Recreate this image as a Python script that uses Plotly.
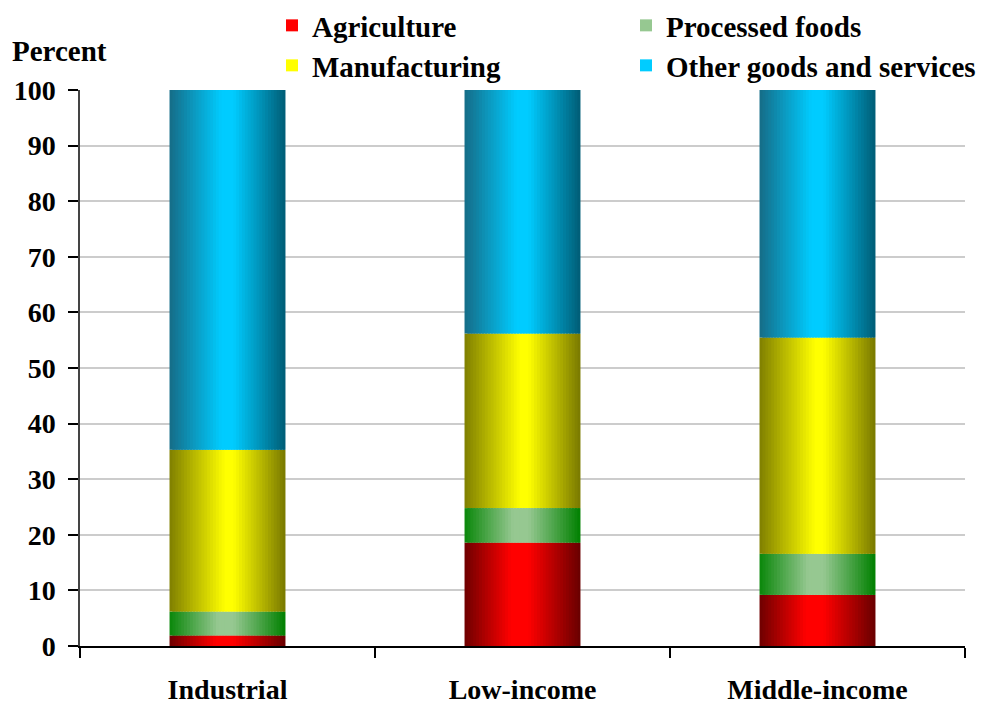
import plotly.graph_objects as go

categories = ["Industrial", "Low-income", "Middle-income"]
series_names = ["Agriculture", "Processed foods", "Manufacturing", "Other goods and services"]
agriculture = [1.9, 18.6, 9.2]
processed_foods = [4.3, 6.2, 7.4]
manufacturing = [29.1, 31.4, 38.9]
other_goods = [64.7, 43.8, 44.5]
y_ticks = [0, 10, 20, 30, 40, 50, 60, 70, 80, 90, 100]

series_values = [agriculture, processed_foods, manufacturing, other_goods]

# gradient stops (position across bar, rgb)
gradients = [
    [(0.0, (110, 0, 0)), (0.40, (255, 0, 0)), (0.55, (255, 0, 0)), (1.0, (104, 0, 0))],
    [(0.0, (10, 135, 10)), (0.42, (150, 200, 145)), (0.55, (150, 200, 145)), (1.0, (0, 128, 0))],
    [(0.0, (127, 127, 0)), (0.48, (255, 255, 0)), (0.55, (255, 255, 0)), (1.0, (120, 120, 0))],
    [(0.0, (22, 108, 135)), (0.45, (0, 204, 255)), (0.55, (0, 204, 255)), (1.0, (0, 92, 117))],
]


def grad_color(stops, t):
    for (p0, c0), (p1, c1) in zip(stops[:-1], stops[1:]):
        if p0 <= t <= p1:
            f = 0 if p1 == p0 else (t - p0) / (p1 - p0)
            c = [round(a + (b - a) * f) for a, b in zip(c0, c1)]
            return "rgb(%d,%d,%d)" % tuple(c)
    return "rgb(%d,%d,%d)" % stops[-1][1]


N = 40
bar_w = 0.393
strip_w = bar_w / N

fig = go.Figure()
bases = [0.0] * len(categories)
legend_assign = ["legend", "legend", "legend2", "legend2"]
for si, (name, vals) in enumerate(zip(series_names, series_values)):
    base_now = list(bases)
    for j in range(N):
        t = (j + 0.5) / N
        w = strip_w * 1.8 if j < N - 1 else strip_w
        fig.add_trace(go.Bar(
            x=categories, y=vals, base=base_now,
            offset=-bar_w / 2 + j * strip_w, width=w,
            marker=dict(color=grad_color(gradients[si], t), line=dict(width=0)),
            name=name, legendgroup=name, legend=legend_assign[si],
            showlegend=(j == N // 2), hoverinfo="skip",
        ))
    bases = [b + v for b, v in zip(bases, vals)]

font_family = "Liberation Serif"
fig.update_layout(
    width=982, height=704,
    margin=dict(l=80, r=17, t=90, b=58, autoexpand=False),
    barmode="overlay",
    plot_bgcolor="white", paper_bgcolor="white",
    font=dict(family=font_family, size=28, color="black", weight="bold"),
    legend=dict(orientation="h", xref="container", yref="container",
                x=272 / 982, y=1 - 0 / 704, xanchor="left", yanchor="top",
                entrywidth=309, entrywidthmode="pixels",
                font=dict(family=font_family, size=29, weight="bold"),
                bgcolor="rgba(0,0,0,0)", itemclick=False, itemdoubleclick=False),
    legend2=dict(orientation="h", xref="container", yref="container",
                 x=272 / 982, y=1 - 40 / 704, xanchor="left", yanchor="top",
                 entrywidth=309, entrywidthmode="pixels",
                 font=dict(family=font_family, size=29, weight="bold"),
                 bgcolor="rgba(0,0,0,0)"),
    showlegend=True,
)
fig.update_xaxes(
    type="category", tickson="boundaries", ticks="outside", ticklen=10, tickwidth=1.5,
    tickcolor="black", showline=True, linecolor="black", linewidth=1.5,
    showgrid=False, ticklabelstandoff=18,
    tickfont=dict(family=font_family, size=28, weight="bold"),
)
fig.update_yaxes(
    range=[0, 100], tickvals=y_ticks, ticks="outside", ticklen=10, tickwidth=1.5,
    tickcolor="black", showline=True, linecolor="#444444", linewidth=1.5,
    showgrid=True, gridcolor="#cccccc", gridwidth=1.5, zeroline=False,
    ticklabelstandoff=7,
    tickfont=dict(family=font_family, size=28, weight="bold"),
)
fig.add_annotation(text="Percent", xref="paper", yref="paper", x=0, y=1,
                   xshift=-70, yshift=21, xanchor="left", yanchor="bottom",
                   showarrow=False,
                   font=dict(family=font_family, size=29, weight="bold"))

fig.write_html("out.html")
